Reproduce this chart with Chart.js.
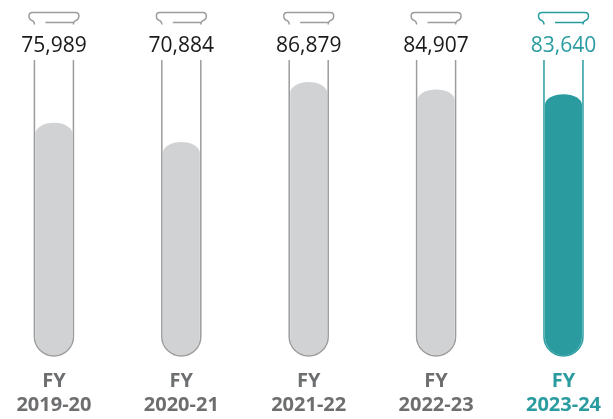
<!DOCTYPE html>
<html><head><meta charset="utf-8">
<script src="https://cdn.jsdelivr.net/npm/chart.js@4"></script>
<style>html,body{margin:0;padding:0;background:#fff}#wrap{width:613px;height:419px}</style>
</head><body><div id="wrap"><canvas id="c" width="613" height="419"></canvas></div>
<script>
const categories = [["FY","2019-20"],["FY","2020-21"],["FY","2021-22"],["FY","2022-23"],["FY","2023-24"]];
const values = [75989, 70884, 86879, 84907, 83640];
const highlightIndex = 4;
const yAxisMin = 13566;
const yAxisMax = 92745;

const GRAY_FILL = '#d1d2d4', GRAY_LINE = '#9c9c9c', TEAL = '#2a9ca0', LABEL_GRAY = '#6d6e70';

const tubePlugin = {
  id: 'tubes',
  beforeDatasetsDraw(chart) {
    const ctx = chart.ctx;
    const meta = chart.getDatasetMeta(0);
    const top = chart.chartArea.top;
    meta.data.forEach((el, i) => {
      const hi = i === highlightIndex;
      const x = el.x, y = el.y, base = Math.min(el.base, chart.chartArea.bottom);
      const r = 18.5, ry = 11;
      ctx.save();
      ctx.beginPath();
      ctx.moveTo(x - r, y + ry);
      ctx.ellipse(x, y + ry, r, ry, 0, Math.PI, 2 * Math.PI);
      ctx.lineTo(x + r, base - 20);
      ctx.arc(x, base - 20, r, 0, Math.PI);
      ctx.closePath();
      ctx.fillStyle = hi ? TEAL : GRAY_FILL;
      ctx.fill();
      const R = 19.5;
      ctx.beginPath();
      ctx.moveTo(x - R, top);
      ctx.lineTo(x - R, base - 20.5);
      ctx.arc(x, base - 20.5, R, Math.PI, 0, true);
      ctx.lineTo(x + R, top);
      ctx.strokeStyle = hi ? TEAL : GRAY_LINE;
      ctx.lineWidth = 1.5;
      ctx.stroke();
      ctx.beginPath();
      ctx.moveTo(x - R, 24.5);
      ctx.quadraticCurveTo(x - R, 21, x - 23, 20);
      ctx.quadraticCurveTo(x - 25, 19, x - 25, 16);
      ctx.quadraticCurveTo(x - 25, 12.5, x - 21.5, 12.5);
      ctx.lineTo(x + 21.5, 12.5);
      ctx.quadraticCurveTo(x + 25, 12.5, x + 25, 16);
      ctx.quadraticCurveTo(x + 25, 19, x + 23, 20);
      ctx.quadraticCurveTo(x + R, 21, x + R, 24.5);
      ctx.moveTo(x - 8.5, 22.5);
      ctx.lineTo(x + R, 22.5);
      ctx.stroke();
      ctx.fillStyle = hi ? TEAL : '#1a1a1a';
      ctx.font = '21px "Open Sans", sans-serif';
      ctx.textAlign = 'center';
      ctx.textBaseline = 'middle';
      ctx.fillText(values[i].toLocaleString('en-US'), x, 46);
      ctx.restore();
    });
  }
};

new Chart(document.getElementById('c'), {
  type: 'bar',
  data: {
    datasets: [{
      data: values.map((v, i) => ({ x: i, y: v })),
      base: yAxisMin,
      backgroundColor: 'rgba(0,0,0,0)',
      borderWidth: 0,
      barThickness: 37
    }]
  },
  options: {
    responsive: false,
    animation: false,
    events: [],
    layout: { padding: { top: 60, bottom: 0, left: 0, right: 0 } },
    plugins: { legend: { display: false }, tooltip: { enabled: false } },
    scales: {
      x: {
        type: 'linear',
        offset: false,
        min: -0.4233,
        max: 4.3379,
        afterFit: (s) => { s.height = 62; },
        grid: { display: false, drawTicks: false, offset: false },
        border: { display: false },
        ticks: {
          stepSize: 1,
          includeBounds: false,
          autoSkip: false,
          maxRotation: 0,
          padding: 12,
          callback: (v) => categories[Math.round(v)] || '',
          color: (c) => Math.round(c.tick.value) === highlightIndex ? TEAL : LABEL_GRAY,
          font: { family: '"Open Sans", sans-serif', size: 20, weight: 'bold', lineHeight: 1.2 }
        }
      },
      y: {
        display: false,
        min: yAxisMin,
        max: yAxisMax
      }
    }
  },
  plugins: [tubePlugin]
});
</script></body></html>
